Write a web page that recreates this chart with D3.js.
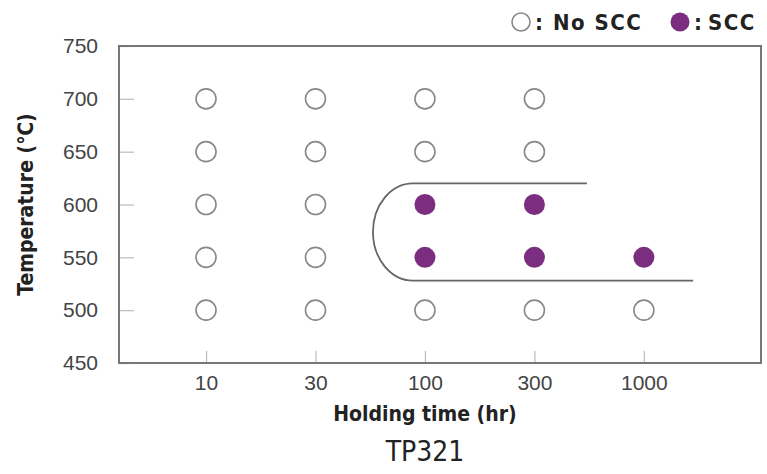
<!DOCTYPE html>
<html>
<head>
<meta charset="utf-8">
<script src="https://cdn.jsdelivr.net/npm/d3@7.9.0/dist/d3.min.js"></script>
<style>
  body { margin: 0; background: #fff; }
  svg { display: block; font-family: "DejaVu Sans Condensed", "DejaVu Sans", sans-serif; }
  .tick text { fill: #444; font-size: 21px; }
  .tick line { stroke: #bbb; stroke-width: 1.2; }
  .lbl { font-weight: bold; fill: #222; font-size: 21px; }
  .leg { font-weight: bold; fill: #222; font-size: 22px; letter-spacing: 1.5px; }
</style>
</head>
<body>
<svg id="chart" width="767" height="474"></svg>
<script>
const times = ['10', '30', '100', '300', '1000'];
const tempTicks = [450, 500, 550, 600, 650, 700, 750];

// each test: holding time, temperature, cracked or not
const tests = [
  ['10', 700, false], ['30', 700, false], ['100', 700, false], ['300', 700, false],
  ['10', 650, false], ['30', 650, false], ['100', 650, false], ['300', 650, false],
  ['10', 600, false], ['30', 600, false], ['100', 600, true], ['300', 600, true],
  ['10', 550, false], ['30', 550, false], ['100', 550, true], ['300', 550, true], ['1000', 550, true],
  ['10', 500, false], ['30', 500, false], ['100', 500, false], ['300', 500, false], ['1000', 500, false]
];

// SCC region outline (x in time-index units, y in °C)
const regionTop = 620, regionBottom = 528;
const regionNose = 1.525, regionBend = 1.89;
const regionTopEnd = 3.48, regionBottomEnd = 4.45;

const svg = d3.select('#chart');
const plotL = 119, plotR = 761, plotT = 46, plotB = 363;

const x = d3.scaleLinear().domain([-0.795, 5.07]).range([plotL, plotR]);
const y = d3.scaleLinear().domain([450, 750]).range([plotB, plotT]);
const idx = t => times.indexOf(t);

const yAxis = d3.axisLeft(y).tickValues(tempTicks).tickSize(-15).tickPadding(21);
svg.append('g').attr('transform', `translate(${plotL},0)`).call(yAxis)
  .call(g => g.select('.domain').remove());

const xAxis = d3.axisBottom(x).tickValues(d3.range(times.length))
  .tickFormat(i => times[i]).tickSize(-12).tickPadding(12);
svg.append('g').attr('transform', `translate(0,${plotB})`).call(xAxis)
  .call(g => g.select('.domain').remove());

svg.append('rect')
  .attr('x', plotL).attr('y', plotT)
  .attr('width', plotR - plotL).attr('height', plotB - plotT)
  .attr('fill', 'none').attr('stroke', '#777').attr('stroke-width', 2);

// region outline
const rx = x(regionBend) - x(regionNose);
const ry = (y(regionBottom) - y(regionTop)) / 2;
svg.append('path')
  .attr('d', `M${x(regionTopEnd)},${y(regionTop)} H${x(regionBend)} ` +
    `A${rx},${ry} 0 0 0 ${x(regionBend)},${y(regionBottom)} H${x(regionBottomEnd)}`)
  .attr('fill', 'none').attr('stroke', '#666').attr('stroke-width', 1.8);

svg.append('g').selectAll('circle').data(tests).join('circle')
  .attr('cx', d => x(idx(d[0])))
  .attr('cy', d => y(d[1]))
  .attr('r', d => d[2] ? 10.5 : 10)
  .attr('fill', d => d[2] ? '#7b2d80' : '#fff')
  .attr('stroke', d => d[2] ? 'none' : '#888')
  .attr('stroke-width', 1.6);

// axis titles
svg.append('text').attr('class', 'lbl')
  .attr('transform', `translate(33,${(plotT + plotB) / 2}) rotate(-90)`)
  .attr('text-anchor', 'middle').text('Temperature (℃)');
svg.append('text').attr('class', 'lbl')
  .attr('x', x(2)).attr('y', 421).attr('text-anchor', 'middle')
  .text('Holding time (hr)');
svg.append('text')
  .attr('x', x(2)).attr('y', 461).attr('text-anchor', 'middle')
  .attr('fill', '#222').attr('font-size', 28).text('TP321');

// legend
const legend = svg.append('g');
legend.append('circle').attr('cx', 521).attr('cy', 22).attr('r', 9)
  .attr('fill', '#fff').attr('stroke', '#888').attr('stroke-width', 1.6);
legend.append('text').attr('class', 'leg').attr('x', 535).attr('y', 30).text(':');
legend.append('text').attr('class', 'leg').attr('x', 553).attr('y', 30).text('No SCC');
legend.append('circle').attr('cx', 680).attr('cy', 22).attr('r', 9.5).attr('fill', '#7b2d80');
legend.append('text').attr('class', 'leg').attr('x', 694).attr('y', 30).text(':');
legend.append('text').attr('class', 'leg').attr('x', 708).attr('y', 30).text('SCC');
</script>
</body>
</html>
